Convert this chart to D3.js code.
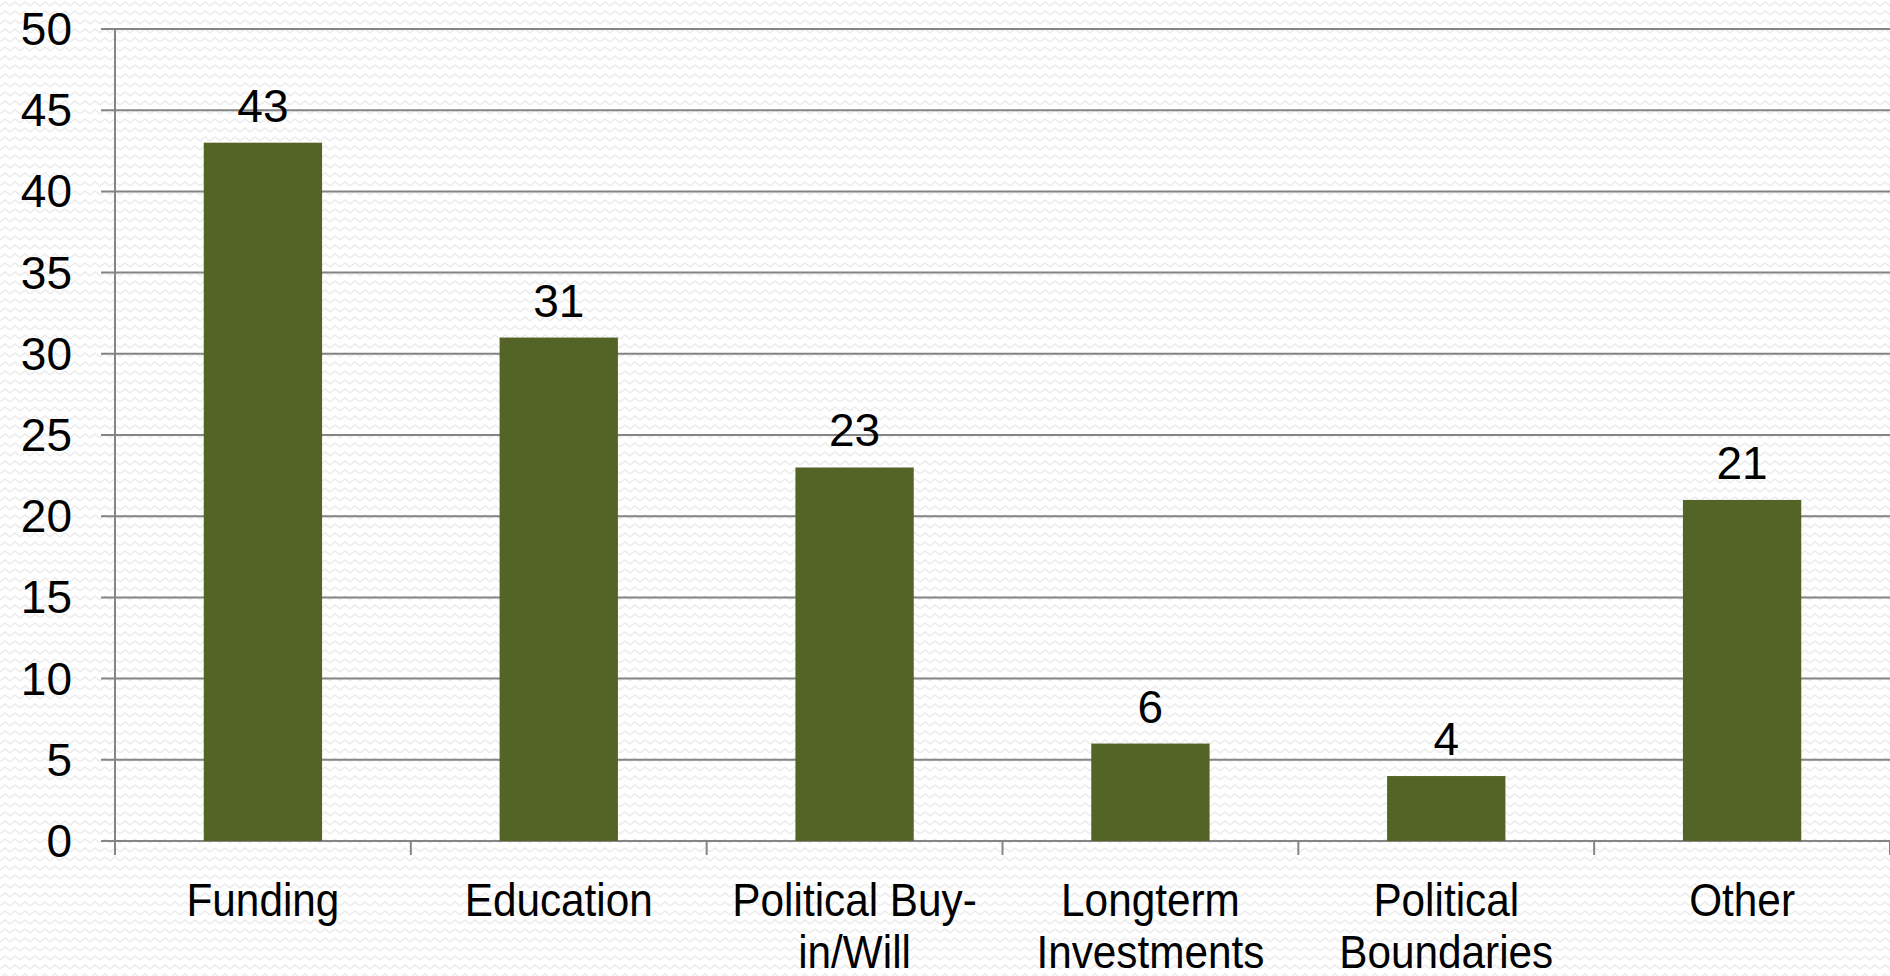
<!DOCTYPE html>
<html>
<head>
<meta charset="utf-8">
<script src="https://cdn.jsdelivr.net/npm/d3@7"></script>
<style>
  html, body { margin: 0; padding: 0; background: #fff; }
  svg { display: block; }
</style>
</head>
<body>
<svg id="chart" width="1890" height="976"></svg>
<script>
// Barriers reported, by category
const categories = ["Funding", "Education", "Political Buy-in/Will", "Longterm Investments", "Political Boundaries", "Other"];
const categoryLines = [["Funding"], ["Education"], ["Political Buy-", "in/Will"], ["Longterm", "Investments"], ["Political", "Boundaries"], ["Other"]];
const values = [43, 31, 23, 6, 4, 21];
const yTicks = [0, 5, 10, 15, 20, 25, 30, 35, 40, 45, 50];

const W = 1890, H = 976;
const margin = { left: 115, right: 0, top: 29, bottom: 135 };

const svg = d3.select("#chart");

// faint zigzag paper texture
const defs = svg.append("defs");
const pat = defs.append("pattern")
  .attr("id", "zigzag")
  .attr("patternUnits", "userSpaceOnUse")
  .attr("width", 10).attr("height", 9);
pat.append("rect").attr("width", 10).attr("height", 9).attr("fill", "#ffffff");
pat.append("path")
  .attr("d", "M0,6 L5,2 L10,6")
  .attr("fill", "none")
  .attr("stroke", "#ececec")
  .attr("stroke-width", 1.6);
svg.append("rect").attr("width", W).attr("height", H).attr("fill", "url(#zigzag)");

const x = d3.scaleBand()
  .domain(categories)
  .range([margin.left, W - margin.right])
  .paddingInner(0.6)
  .paddingOuter(0.3);

const y = d3.scaleLinear()
  .domain([0, 50])
  .range([H - margin.bottom, margin.top]);

const gridColor = "#858585";

// horizontal gridlines (with the short tick stub left of the axis)
svg.append("g")
  .selectAll("line")
  .data(yTicks)
  .join("line")
  .attr("x1", margin.left - 14)
  .attr("x2", W)
  .attr("y1", d => y(d))
  .attr("y2", d => y(d))
  .attr("stroke", gridColor)
  .attr("stroke-width", 2);

// y axis line
svg.append("line")
  .attr("x1", margin.left).attr("x2", margin.left)
  .attr("y1", y(50)).attr("y2", y(0) + 14)
  .attr("stroke", gridColor).attr("stroke-width", 2);

// category separator ticks below the baseline
const bandStep = x.step();
const sepX = categories.map((c, i) => margin.left + (i + 1) * bandStep);
svg.append("g")
  .selectAll("line")
  .data(sepX)
  .join("line")
  .attr("x1", d => d).attr("x2", d => d)
  .attr("y1", y(0)).attr("y2", y(0) + 14)
  .attr("stroke", gridColor).attr("stroke-width", 2);

// y tick labels
svg.append("g")
  .selectAll("text")
  .data(yTicks)
  .join("text")
  .attr("x", 72)
  .attr("y", d => y(d))
  .attr("text-anchor", "end")
  .attr("dominant-baseline", "central")
  .attr("font-family", "'Liberation Sans', Arial, sans-serif")
  .attr("font-size", 46)
  .attr("fill", "#000")
  .text(d => d);

// bars
svg.append("g")
  .selectAll("rect")
  .data(values)
  .join("rect")
  .attr("x", (d, i) => x(categories[i]))
  .attr("y", d => y(d))
  .attr("width", x.bandwidth())
  .attr("height", d => y(0) - y(d))
  .attr("fill", "#546427");

// value labels
svg.append("g")
  .selectAll("text")
  .data(values)
  .join("text")
  .attr("x", (d, i) => x(categories[i]) + x.bandwidth() / 2)
  .attr("y", d => y(d) - 21)
  .attr("text-anchor", "middle")
  .attr("font-family", "'Liberation Sans', Arial, sans-serif")
  .attr("font-size", 46)
  .attr("fill", "#000")
  .text(d => d);

// category labels, horizontally condensed
const lab = svg.append("g")
  .selectAll("g")
  .data(categories)
  .join("g")
  .attr("transform", d => `translate(${x(d) + x.bandwidth() / 2},916) scale(0.9,1)`)
  .append("text")
  .attr("x", 0)
  .attr("y", 0)
  .attr("text-anchor", "middle")
  .attr("font-family", "'Liberation Sans', Arial, sans-serif")
  .attr("font-size", 47)
  .attr("fill", "#000");
lab.selectAll("tspan")
  .data((d, i) => categoryLines[i])
  .join("tspan")
  .attr("x", 0)
  .attr("dy", (d, i) => i === 0 ? 0 : 52)
  .text(d => d);
</script>
</body>
</html>
